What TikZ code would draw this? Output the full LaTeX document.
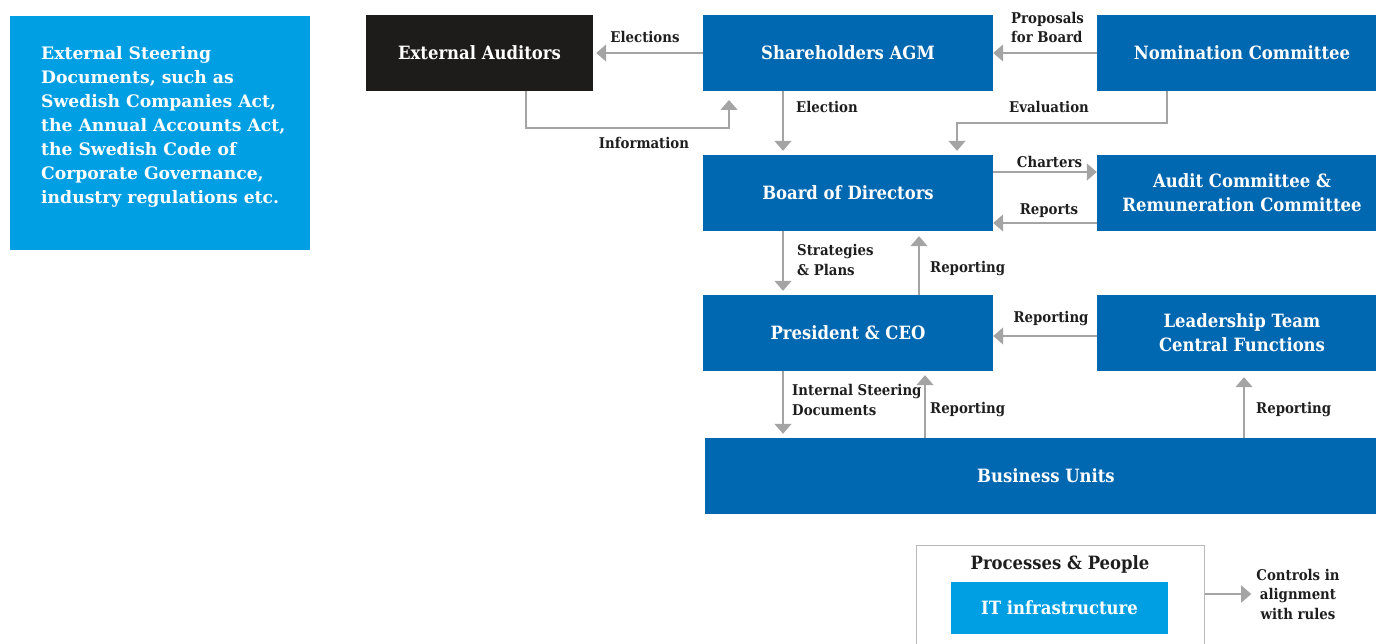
\documentclass[tikz,border=0pt]{standalone}
\usepackage{fontspec}
\usetikzlibrary{arrows.meta}
\newfontfamily\condf{DejaVu Serif Condensed}
\newfontfamily\widef{DejaVu Serif}
\definecolor{cblue}{HTML}{0067B1}
\definecolor{clight}{HTML}{009FE3}
\definecolor{cblack}{HTML}{1E1C1A}
\definecolor{cgray}{HTML}{A4A4A4}
\definecolor{cgrayb}{HTML}{B8B8B8}
\definecolor{cdark}{HTML}{1E1E1E}
\begin{document}
\begin{tikzpicture}[x=1pt,y=-1pt,
  box/.style={fill=cblue, text=white, font={\condf\bfseries\fontsize{18.3}{24}\selectfont},
    minimum width=290pt, minimum height=76pt, inner sep=0pt, align=center},
  lab/.style={font={\condf\bfseries\fontsize{14.8}{19.5}\selectfont}, text=cdark, inner sep=0pt, align=left},
  arr/.style={draw=cgray, line width=1.5pt, -{Triangle[length=10pt,width=17pt]}}]
\useasboundingbox (0,0) rectangle (1376,644);
% external steering documents
\node[fill=clight, minimum width=300pt, minimum height=234pt, inner sep=0pt] (ext) at (160,133) {};
\node[font={\widef\bfseries\fontsize{17.2}{24}\selectfont}, text=white, align=left, inner sep=0pt, anchor=west] (exttxt) at (41,127)
  {External Steering\\Documents, such as\\Swedish Companies Act,\\the Annual Accounts Act,\\the Swedish Code of\\Corporate Governance,\\industry regulations etc.};
% boxes
\node[box, fill=cblack, minimum width=227pt] (aud) at (479.5,53) {External Auditors};
\node[box] (agm) at (848,53) {Shareholders AGM};
\node[box] (nom) at (1242,53) {Nomination Committee};
\node[box] (bod) at (848,193) {Board of Directors};
\node[box] (acr) at (1242,193) {Audit Committee \&\\Remuneration Committee};
\node[box] (ceo) at (848,333) {President \& CEO};
\node[box] (lt) at (1242,333) {Leadership Team\\Central Functions};
\node[box, minimum width=682pt] (bu) at (1046,476) {Business Units};
% processes & people
\node[draw=cgrayb, line width=1.2pt, minimum width=288pt, minimum height=110pt, inner sep=0pt, anchor=north west] (pp) at (916,545) {};
\node[font={\condf\bfseries\fontsize{18.3}{24}\selectfont}, text=cdark, inner sep=0pt] (pptxt) at (1060,564) {Processes \& People};
\node[box, fill=clight, minimum width=217pt, minimum height=52pt] (it) at (1059.5,608) {IT infrastructure};
% labels
\node[lab] (lelec) at (645,37) {Elections};
\node[lab, anchor=west] (lprop) at (1011,27.5) {Proposals\\for Board};
\node[lab] (linfo) at (644,143) {Information};
\node[lab, anchor=west] (lelection) at (796,107) {Election};
\node[lab] (leval) at (1049,107) {Evaluation};
\node[lab] (lchart) at (1049.5,162) {Charters};
\node[lab] (lrep) at (1049,211) {Reports};
\node[lab, anchor=west] (lstrat) at (797,260) {Strategies\\\& Plans};
\node[lab, anchor=west] (lrep1) at (930,269) {Reporting};
\node[lab] (lrep2) at (1051,319) {Reporting};
\node[lab, anchor=west] (lisd) at (792,400) {Internal Steering\\Documents};
\node[lab, anchor=west] (lrep3) at (930,410) {Reporting};
\node[lab, anchor=west] (lrep4) at (1256,410) {Reporting};
\node[lab, align=center] (ctrl) at (1298,594) {Controls in\\alignment\\with rules};
% connectors
\draw[arr, shorten >=3pt] (agm.west) -- (aud.east);
\draw[arr] (nom.west) -- (agm.east);
\coordinate (infoknee) at (729,128);
\coordinate (infotip) at (729,100);
\draw[arr] ([xshift=46.5pt]aud.south) |- (infoknee) -- (infotip);
\draw[arr, shorten >=4pt] ([xshift=-65pt]agm.south) -- ([xshift=-65pt]bod.north);
\coordinate (evknee) at (957,123);
\draw[arr, shorten >=4pt] ([xshift=-75pt]nom.south) |- (evknee) -- ([xshift=109pt]bod.north);
\draw[arr] ([yshift=21pt]bod.east) -- ([yshift=21pt]acr.west);
\draw[arr] ([yshift=-30pt]acr.west) -- ([yshift=-30pt]bod.east);
\draw[arr, shorten >=4pt] ([xshift=-65pt]bod.south) -- ([xshift=-65pt]ceo.north);
\draw[arr, shorten >=5pt] ([xshift=71pt]ceo.north) -- ([xshift=71pt]bod.south);
\draw[arr] ([yshift=-3pt]lt.west) -- ([yshift=-3pt]ceo.east);
\draw[arr, shorten >=4pt] ([xshift=-65pt]ceo.south) -- ([xshift=-263pt]bu.north);
\draw[arr, shorten >=4pt] ([xshift=-121pt]bu.north) -- ([xshift=77pt]ceo.south);
\draw[arr, shorten >=6pt] ([xshift=198pt]bu.north) -- ([xshift=2pt]lt.south);
\draw[arr, shorten >=5pt] (pp.east |- ctrl.west) -- (ctrl.west);
\end{tikzpicture}
\end{document}
